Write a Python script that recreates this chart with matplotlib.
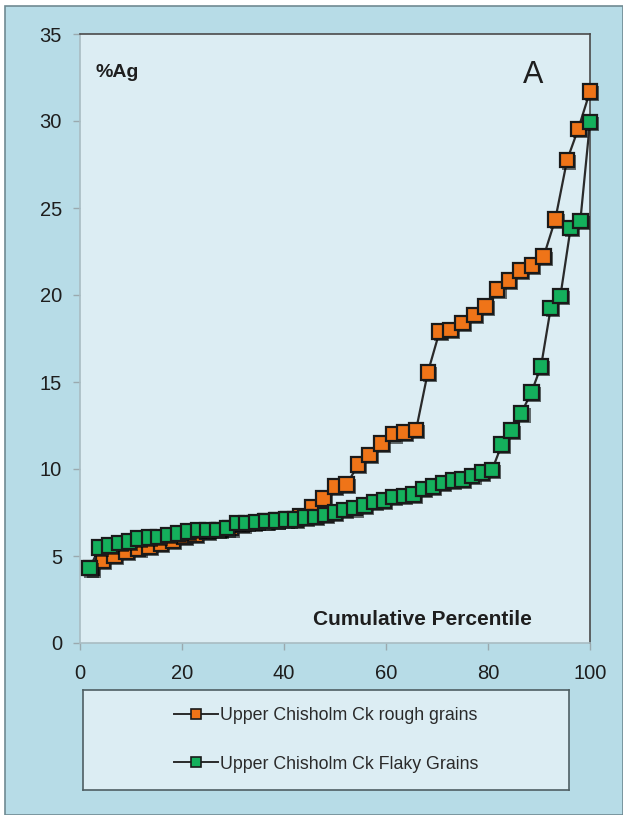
import matplotlib
matplotlib.use("Agg")
import matplotlib.pyplot as plt
import matplotlib.patheffects as pe
from matplotlib.lines import Line2D
from matplotlib.patches import Rectangle

plt.rcParams['font.family'] = ['Liberation Sans', 'DejaVu Sans']

# ---- data ----
rough_x = [2.3, 4.5, 6.8, 9.1, 11.4, 13.6, 15.9, 18.2, 20.5, 22.7, 25.0, 27.3, 29.5,
           31.8, 34.1, 36.4, 38.6, 40.9, 43.2, 45.5, 47.7, 50.0, 52.3, 54.5, 56.8,
           59.1, 61.4, 63.6, 65.9, 68.2, 70.5, 72.7, 75.0, 77.3, 79.5, 81.8, 84.1,
           86.4, 88.6, 90.9, 93.2, 95.5, 97.7, 100.0]
rough_y = [4.3, 4.75, 5.0, 5.25, 5.4, 5.55, 5.7, 5.9, 6.1, 6.25, 6.4, 6.5, 6.6,
           6.8, 6.9, 7.0, 7.05, 7.1, 7.3, 7.8, 8.3, 9.0, 9.1, 10.25, 10.8,
           11.45, 12.0, 12.1, 12.25, 15.55, 17.9, 18.0, 18.4, 18.85, 19.35, 20.3, 20.85,
           21.4, 21.7, 22.2, 24.35, 27.75, 29.55, 31.7]

flaky_x = [1.9, 3.8, 5.8, 7.7, 9.6, 11.5, 13.5, 15.4, 17.3, 19.2, 21.2, 23.1, 25.0,
           26.9, 28.8, 30.8, 32.7, 34.6, 36.5, 38.5, 40.4, 42.3, 44.2, 46.2, 48.1,
           50.0, 51.9, 53.8, 55.8, 57.7, 59.6, 61.5, 63.5, 65.4, 67.3, 69.2, 71.2,
           73.1, 75.0, 76.9, 78.8, 80.8, 82.7, 84.6, 86.5, 88.5, 90.4, 92.3, 94.2,
           96.2, 98.1, 100.0]
flaky_y = [4.3, 5.5, 5.6, 5.75, 5.85, 6.0, 6.05, 6.1, 6.2, 6.3, 6.4, 6.5, 6.5,
           6.5, 6.6, 6.9, 6.9, 6.95, 7.0, 7.05, 7.1, 7.1, 7.2, 7.25, 7.35,
           7.5, 7.65, 7.75, 7.9, 8.1, 8.2, 8.4, 8.45, 8.55, 8.85, 9.0, 9.2,
           9.35, 9.4, 9.6, 9.8, 9.95, 11.4, 12.2, 13.2, 14.4, 15.9, 19.25, 19.95,
           23.85, 24.25, 29.95]

series_labels = ["Upper Chisholm Ck rough grains", "Upper Chisholm Ck Flaky Grains"]
x_ticks = [0, 20, 40, 60, 80, 100]
y_ticks = [0, 5, 10, 15, 20, 25, 30, 35]

# ---- style ----
BG_OUT = '#b7dce7'
BG_IN = '#dcedf3'
ORANGE = '#ef7418'
GREEN = '#14b05c'
TXT = '#1e1e1e'

W, H = 623, 815
fig = plt.figure(figsize=(W / 100, H / 100), dpi=100)
fig.patch.set_facecolor('white')

# outer blue panel with border
fig.patches.append(Rectangle((5 / W, 0), 1 - 5 / W, 1 - 6 / H, transform=fig.transFigure,
                             facecolor=BG_OUT, edgecolor='#6f8a92', linewidth=1.2, zorder=-10))

ax = fig.add_axes([80 / W, (H - 643) / H, 510 / W, 609 / H])
ax.set_zorder(2)
ax.set_facecolor(BG_IN)

shadow = [pe.SimplePatchShadow(offset=(1.5, -1.5), shadow_rgbFace='black', alpha=0.55),
          pe.Normal()]

for xs, ys, col, z in [(rough_x, rough_y, ORANGE, 3), (flaky_x, flaky_y, GREEN, 5)]:
    ax.plot(xs, ys, color='#2a2a2a', linewidth=1.6, zorder=z, clip_on=False)
    ax.plot(xs, ys, linestyle='none', marker='s', markersize=10.5,
            markerfacecolor=col, markeredgecolor='#1a1a1a', markeredgewidth=1.6,
            zorder=z + 1, clip_on=False, path_effects=shadow)

ax.set_xlim(0, 100)
ax.set_ylim(0, 35)
ax.set_xticks(x_ticks)
ax.set_yticks(y_ticks)
ax.tick_params(axis='both', labelsize=14.5, colors='#9aa9ae', labelcolor=TXT, length=5,
               direction='out', width=1)
ax.tick_params(axis='x', pad=10)
ax.tick_params(axis='y', pad=8)

for side in ['top', 'right']:
    ax.spines[side].set_color('#4a4a4a')
    ax.spines[side].set_linewidth(1.2)
for side in ['left', 'bottom']:
    ax.spines[side].set_color('#a9bcc2')
    ax.spines[side].set_linewidth(1.2)

ax.text(0.031, 0.937, '%Ag', transform=ax.transAxes, fontsize=14, fontweight='bold',
        color=TXT, ha='left', va='center')
ax.text(0.888, 0.933, 'A', transform=ax.transAxes, fontsize=22, color=TXT,
        ha='center', va='center')
ax.text(0.671, 0.039, 'Cumulative Percentile', transform=ax.transAxes, fontsize=15,
        fontweight='bold', color=TXT, ha='center', va='center')

# legend box
lax = fig.add_axes([83 / W, (H - 790) / H, 486 / W, 100 / H])
lax.set_zorder(2)
lax.set_facecolor(BG_IN)
lax.set_xticks([])
lax.set_yticks([])
for s in lax.spines.values():
    s.set_color('#4f5f63')
    s.set_linewidth(1.2)

handles = [
    Line2D([], [], color='#2a2a2a', linewidth=1.4, marker='s', markersize=7,
           markerfacecolor=ORANGE, markeredgecolor='#1a1a1a', markeredgewidth=1.2),
    Line2D([], [], color='#2a2a2a', linewidth=1.4, marker='s', markersize=7,
           markerfacecolor=GREEN, markeredgecolor='#1a1a1a', markeredgewidth=1.2),
]
leg = lax.legend(handles, series_labels, loc='center', frameon=False, fontsize=12.8,
                 labelspacing=1.75, handlelength=2.5, handletextpad=0.1)
for t in leg.get_texts():
    t.set_color('#2a2a2a')

fig.savefig('out.png', dpi=100, facecolor=fig.get_facecolor())
